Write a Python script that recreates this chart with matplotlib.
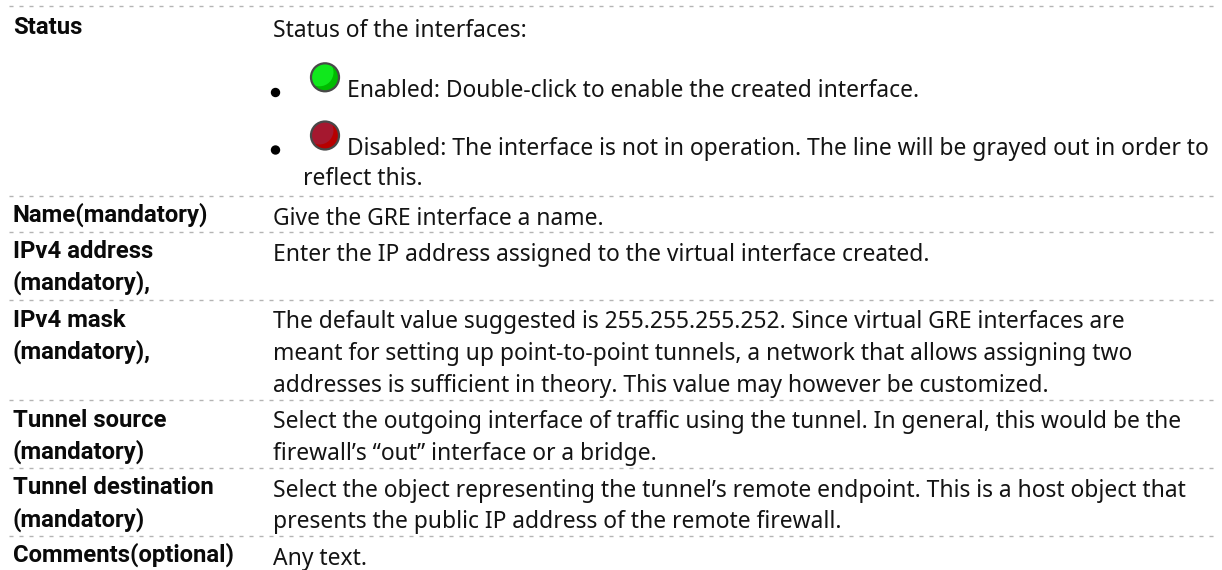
import matplotlib
matplotlib.use("Agg")
import matplotlib.pyplot as plt
from matplotlib.patches import Circle

# table content
label_lines = ["Status", "Name(mandatory)", "IPv4 address", "(mandatory),", "IPv4 mask", "(mandatory),",
               "Tunnel source", "(mandatory)", "Tunnel destination", "(mandatory)", "Comments(optional)"]
label_y = [34, 222, 258, 290, 327, 359, 427, 459, 494, 527, 562]
separators = [5.7, 196, 232, 300, 400, 468, 536]

desc_lines = [
    "Status of the interfaces:",
    "Enabled: Double-click to enable the created interface.",
    "Disabled: The interface is not in operation. The line will be grayed out in order to",
    "reflect this.",
    "Give the GRE interface a name.",
    "Enter the IP address assigned to the virtual interface created.",
    "The default value suggested is 255.255.255.252. Since virtual GRE interfaces are",
    "meant for setting up point-to-point tunnels, a network that allows assigning two",
    "addresses is sufficient in theory. This value may however be customized.",
    "Select the outgoing interface of traffic using the tunnel. In general, this would be the",
    "firewall\u2019s \u201cout\u201d interface or a bridge.",
    "Select the object representing the tunnel\u2019s remote endpoint. This is a host object that",
    "presents the public IP address of the remote firewall.",
    "Any text.",
]
desc_x = [273, 347, 347, 303, 273, 273, 273, 273, 273, 273, 273, 273, 273, 273]
desc_y = [37, 97, 155, 185, 225, 261, 328, 360, 392, 428, 460, 497, 528, 565]

bullet_y = [92.5, 150]
led_y = [77.3, 135.5]
led_colors = [("#10e81c", "#00bb00"), ("#a5182f", "#b80000")]

W, H = 1222, 570
plt.rcParams["font.family"] = ["Roboto", "DejaVu Sans"]
fig = plt.figure(figsize=(W / 100, H / 100), dpi=100)
ax = fig.add_axes([0, 0, 1, 1])
ax.set_xlim(0, W)
ax.set_ylim(H, 0)
ax.axis("off")

for y in separators:
    ax.plot([9, 1215], [y, y], color="#b4b4b4", lw=1, dashes=(2.9, 4.3))

for lab, y in zip(label_lines, label_y):
    ax.text(13, y, lab, fontsize=17.2, fontweight="bold", color="#0a0a0a", va="baseline")

for line, x, y in zip(desc_lines, desc_x, desc_y):
    ax.text(x, y, line, fontsize=16.44, family=["Noto Sans", "DejaVu Sans"], color="#141414", va="baseline")

for y in bullet_y:
    ax.add_patch(Circle((275.5, y), 4, color="black"))

for y, (c1, c2) in zip(led_y, led_colors):
    base = Circle((325, y), 14, fc=c2, ec="none")
    ax.add_patch(base)
    shine = Circle((319.5, y - 5), 14, fc=c1, ec="none")
    ax.add_patch(shine)
    shine.set_clip_path(base)
    ax.add_patch(Circle((325, y), 14, fc="none", ec="#484848", lw=1.6))

fig.savefig("out.png", dpi=100)
